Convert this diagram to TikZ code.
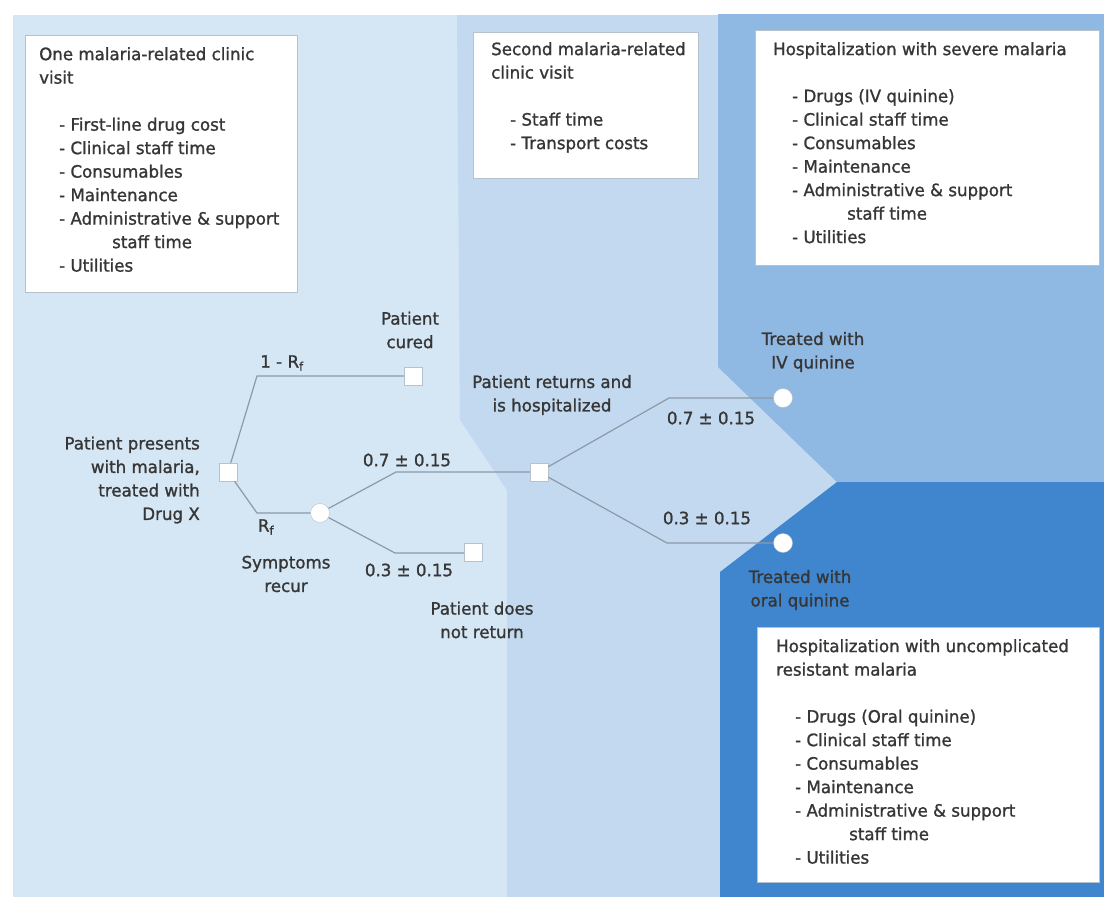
\documentclass[tikz,border=0pt]{standalone}
\usepackage{fontspec}
\setmainfont{DejaVu Sans}[FakeStretch=0.98,FakeBold=1.2]
\usepackage{xcolor}
\usetikzlibrary{positioning}
\definecolor{bgleft}{HTML}{D5E6F5}
\definecolor{bgmid}{HTML}{C2D9EF}
\definecolor{bgsevere}{HTML}{8FB8E2}
\definecolor{bgoral}{HTML}{3F86CE}
\definecolor{branch}{HTML}{8C9AA8}
\definecolor{nodeline}{HTML}{B8C2CC}
\definecolor{txt}{HTML}{363636}

\begin{document}
\begin{tikzpicture}[x=1pt,y=-1pt,font=\fontsize{17}{23.5}\selectfont,text=txt,
  dec/.style={rectangle,draw=nodeline,fill=white,minimum size=18pt,inner sep=0pt},
  chn/.style={circle,draw=nodeline,fill=white,minimum size=19pt,inner sep=0pt},
  br/.style={draw=branch,line width=1.2pt},
  costbox/.style={rectangle,fill=white,draw=nodeline,line width=0.6pt,inner sep=0pt,anchor=north west},
  costtxt/.style={align=left,inner sep=0pt,anchor=north west},
  lbl/.style={align=center,inner sep=0pt}]
\useasboundingbox (0,0) rectangle (1104,897);
% background bands
\fill[bgleft] (13,15) rectangle (1104,897);
\fill[bgmid] (457,15) -- (1104,15) -- (1104,897) -- (507,897) -- (507,490) -- (460,420) -- (457,15) -- cycle;
\fill[bgsevere] (718,14) -- (1104,14) -- (1104,482) -- (837,482) -- (718,367) -- cycle;
\fill[bgoral] (837,482) -- (1104,482) -- (1104,897) -- (720,897) -- (720,572) -- cycle;
% cost boxes
\node[costbox,minimum width=272pt,minimum height=257pt] (visitA) at (25,35) {};
\node[costtxt] (visitAtxt) at ([xshift=14pt,yshift=-12pt]visitA.north west)
  {One malaria-related clinic\\visit\\[23.5pt]
   \hspace*{20pt}- First-line drug cost\\
   \hspace*{20pt}- Clinical staff time\\
   \hspace*{20pt}- Consumables\\
   \hspace*{20pt}- Maintenance\\
   \hspace*{20pt}- Administrative \& support\\
   \hspace*{73pt}staff time\\
   \hspace*{20pt}- Utilities};
\node[costbox,minimum width=225pt,minimum height=146pt] (visitB) at (473,32) {};
\node[costtxt] (visitBtxt) at ([xshift=18pt,yshift=-10pt]visitB.north west)
  {Second malaria-related\\clinic visit\\[23.5pt]
   \hspace*{19pt}- Staff time\\
   \hspace*{19pt}- Transport costs};
\node[costbox,minimum width=344pt,minimum height=235pt] (severe) at (755,30) {};
\node[costtxt] (severetxt) at ([xshift=18pt,yshift=-12pt]severe.north west)
  {Hospitalization with severe malaria\\[23.5pt]
   \hspace*{19pt}- Drugs (IV quinine)\\
   \hspace*{19pt}- Clinical staff time\\
   \hspace*{19pt}- Consumables\\
   \hspace*{19pt}- Maintenance\\
   \hspace*{19pt}- Administrative \& support\\
   \hspace*{74pt}staff time\\
   \hspace*{19pt}- Utilities};
\node[costbox,minimum width=342pt,minimum height=255pt] (uncomp) at (757,627) {};
\node[costtxt] (uncomptxt) at ([xshift=19pt,yshift=-12pt]uncomp.north west)
  {Hospitalization with uncomplicated\\resistant malaria\\[23.5pt]
   \hspace*{19pt}- Drugs (Oral quinine)\\
   \hspace*{19pt}- Clinical staff time\\
   \hspace*{19pt}- Consumables\\
   \hspace*{19pt}- Maintenance\\
   \hspace*{19pt}- Administrative \& support\\
   \hspace*{73pt}staff time\\
   \hspace*{19pt}- Utilities};
% decision tree
\node[dec] (root) at (228,472) {};
\node[dec] (cured) at (413,376) {};
\node[chn] (recur) at (320,513) {};
\node[dec] (hosp) at (539,472) {};
\node[dec] (noret) at (473,552) {};
\node[chn] (iv) at (783,398) {};
\node[chn] (oral) at (783,543) {};
\coordinate (kcured) at (257,376);
\coordinate (krecur) at (257,513);
\coordinate (khosp) at (396,472);
\coordinate (knoret) at (395,553);
\coordinate (kiv) at (669,398);
\coordinate (koral) at (667,543);
\draw[br] (root) -- (kcured) -- (cured);
\draw[br] (root) -- (krecur) -- (recur);
\draw[br] (recur) -- (khosp) -- (hosp);
\draw[br] (recur) -- (knoret) -- (noret.west |- knoret);
\draw[br] (hosp) -- (kiv) -- (iv);
\draw[br] (hosp) -- (koral) -- (oral);
% labels
\node[lbl,anchor=east,align=right] (presents) at (200,480) {Patient presents\\with malaria,\\treated with\\Drug X};
\node[lbl] (curedlbl) at (410,330) {Patient\\cured};
\node[lbl] (pcure) at (282,363) {1 - R\textsubscript{f}};
\node[lbl] (precur) at (266,527) {R\textsubscript{f}};
\node[lbl] (recurlbl) at (286,574) {Symptoms\\recur};
\node[lbl] (phosp) at (407,460) {0.7 ± 0.15};
\node[lbl] (pnoret) at (409,570) {0.3 ± 0.15};
\node[lbl] (noretlbl) at (482,620) {Patient does\\not return};
\node[lbl] (hosplbl) at (552,395) {Patient returns and\\is hospitalized};
\node[lbl] (piv) at (711,418) {0.7 ± 0.15};
\node[lbl] (poral) at (707,518) {0.3 ± 0.15};
\node[lbl] (ivlbl) at (813,352) {Treated with\\IV quinine};
\node[lbl] (orallbl) at (800,590) {Treated with\\oral quinine};
\end{tikzpicture}
\end{document}
